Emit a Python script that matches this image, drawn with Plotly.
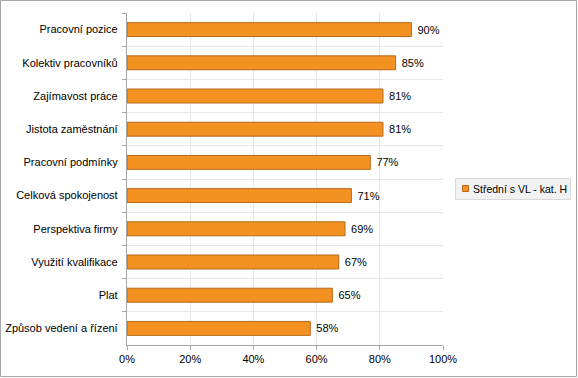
import plotly.graph_objects as go

categories = ["Pracovní pozice", "Kolektiv pracovníků", "Zajímavost práce", "Jistota zaměstnání",
              "Pracovní podmínky", "Celková spokojenost", "Perspektiva firmy", "Využití kvalifikace",
              "Plat", "Způsob vedení a řízení"]
values = [90, 85, 81, 81, 77, 71, 69, 67, 65, 58]
series_name = "Střední s VL - kat. H"
x_ticks = [0, 20, 40, 60, 80, 100]

W, H = 578, 378
L, R, T, B = 127, 443, 13, 345
BAR_COLOR = "#F39220"
BAR_LINE = "#B8671A"

fig = go.Figure()
fig.add_trace(go.Bar(
    y=[c + "  " for c in categories], x=values, orientation="h", name=series_name,
    marker=dict(color=BAR_COLOR, line=dict(color=BAR_LINE, width=1)),
    text=[f" {v}%" for v in values], textposition="outside",
    textfont=dict(size=11, color="#000000"), cliponaxis=False, showlegend=False,
))

def px2x(px):
    return (px - L) / (R - L)

def py2y(py):
    return (B - py) / (B - T)

shapes = [
    # chart border
    dict(type="rect", xref="paper", yref="paper",
         x0=px2x(0.5), x1=px2x(576.5), y0=py2y(0.5), y1=py2y(376.5),
         line=dict(color="#A6A6A6", width=1), fillcolor="rgba(0,0,0,0)", layer="below"),
    # legend box
    dict(type="rect", xref="paper", yref="paper",
         x0=px2x(455.5), x1=px2x(570.5), y0=py2y(178.5), y1=py2y(199.5),
         line=dict(color="#D9D9D9", width=1), fillcolor="#F2F2F2", layer="above"),
    # legend symbol
    dict(type="rect", xref="paper", yref="paper",
         x0=px2x(462.5), x1=px2x(468.5), y0=py2y(185.5), y1=py2y(191.5),
         line=dict(color=BAR_LINE, width=1), fillcolor=BAR_COLOR, layer="above"),
]

annotations = [
    dict(xref="paper", yref="paper", x=px2x(471), y=py2y(189), xanchor="left", yanchor="middle",
         text=series_name, showarrow=False, font=dict(size=10.5, color="#000000")),
]

fig.update_layout(
    width=W, height=H,
    margin=dict(l=L, r=W - R, t=T, b=H - B, autoexpand=False),
    paper_bgcolor="white", plot_bgcolor="white",
    font=dict(family="Liberation Sans, Arial, sans-serif", size=11, color="#000000"),
    bargap=0.58,
    showlegend=False,
    xaxis=dict(range=[0, 100], tickvals=x_ticks, ticktext=[f"{t}%" for t in x_ticks],
               showgrid=True, gridcolor="#E6E6E6", gridwidth=1,
               showline=True, linecolor="#A6A6A6", linewidth=1,
               ticks="outside", ticklen=4, tickcolor="#A6A6A6", zeroline=False,
               tickfont=dict(size=11)),
    yaxis=dict(autorange="reversed", type="category", tickson="boundaries",
               showgrid=True, gridcolor="#E6E6E6", gridwidth=1,
               showline=True, linecolor="#A6A6A6", linewidth=1,
               ticks="outside", ticklen=4, tickcolor="#A6A6A6",
               tickfont=dict(size=11)),
    shapes=shapes,
    annotations=annotations,
)

fig.write_html("out.html", config={"displayModeBar": False},
               post_script="document.body.style.margin='0';document.body.style.padding='0';")
